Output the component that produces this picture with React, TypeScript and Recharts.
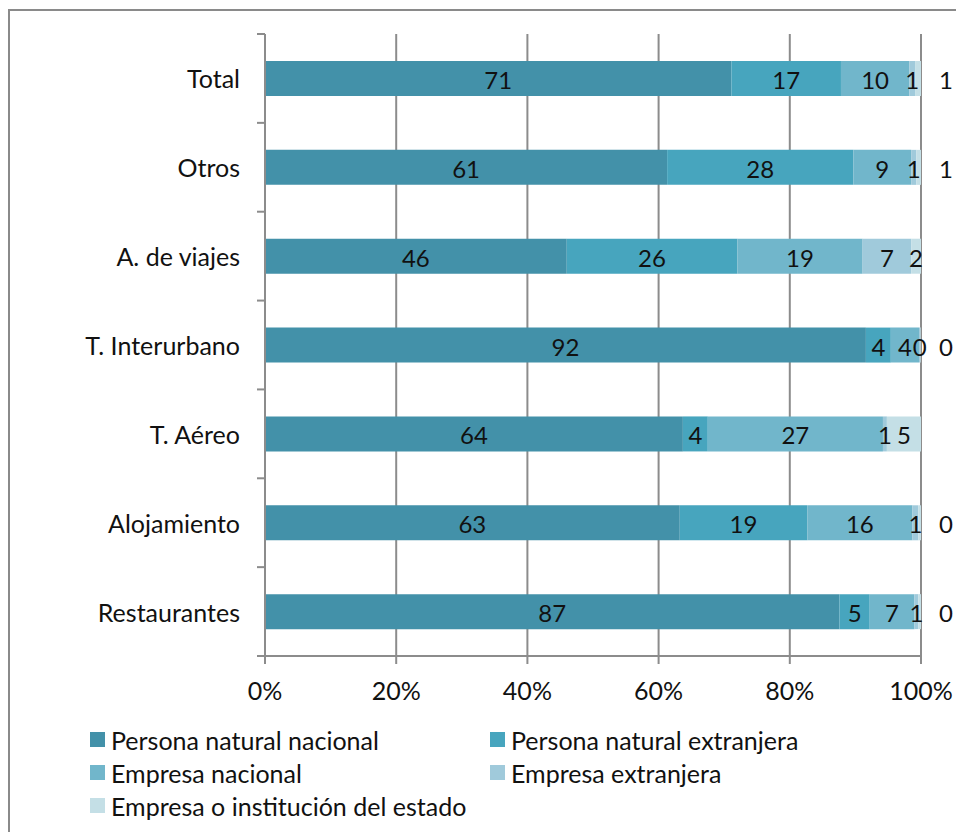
import React from 'react';
import { BarChart, Bar, XAxis, YAxis, CartesianGrid, Legend, LabelList } from 'recharts';

const categories = ['Total', 'Otros', 'A. de viajes', 'T. Interurbano', 'T. Aéreo', 'Alojamiento', 'Restaurantes'];
const personaNacional = [71.1, 61.3, 46.0, 91.6, 63.7, 63.1, 87.4];
const personaExtranjera = [16.7, 28.4, 26.0, 3.8, 3.8, 19.4, 4.6];
const empresaNacional = [10.4, 8.8, 19.1, 4.3, 26.7, 16.0, 6.8];
const empresaExtranjera = [0.9, 0.8, 7.4, 0.2, 0.6, 0.9, 0.6];
const empresaEstado = [0.9, 0.7, 1.5, 0.1, 5.2, 0.4, 0.4];

const seriesNames = [
  'Persona natural nacional',
  'Persona natural extranjera',
  'Empresa nacional',
  'Empresa extranjera',
  'Empresa o institución del estado',
];
const xTicks = [0, 0.2, 0.4, 0.6, 0.8, 1];

const COLORS = ['#4391A9', '#47A5BE', '#71B6CB', '#A0CADB', '#C4DFE6'];
const KEYS = ['s1', 's2', 's3', 's4', 's5'];
const FONT = 'Lato, "Open Sans", sans-serif';
const AXIS = '#8c8c8c';

const data = categories.map((name, i) => ({
  name,
  s1: personaNacional[i],
  s2: personaExtranjera[i],
  s3: empresaNacional[i],
  s4: empresaExtranjera[i],
  s5: empresaEstado[i],
}));

// layout
const PLOT_TOP = 34;
const PLOT_BOTTOM = 656;
const BAND = (PLOT_BOTTOM - PLOT_TOP) / categories.length;

const YTick = (props: any) => {
  const { y, payload } = props;
  const last = payload.value === categories[categories.length - 1];
  return (
    <g>
      <text x={240} y={y} textAnchor="end" dominantBaseline="central" fontSize={25} fontFamily={FONT} fill="#111">
        {payload.value}
      </text>
      <line x1={257} x2={265} y1={y - BAND / 2} y2={y - BAND / 2} stroke={AXIS} strokeWidth={2} />
      {last && <line x1={257} x2={265} y1={y + BAND / 2} y2={y + BAND / 2} stroke={AXIS} strokeWidth={2} />}
    </g>
  );
};

const XTick = (props: any) => {
  const { x, payload } = props;
  return (
    <text x={x} y={690} textAnchor="middle" dominantBaseline="central" fontSize={25} fontFamily={FONT} fill="#111">
      {Math.round(payload.value * 100)}%
    </text>
  );
};

const makeLabel = (series: number) => (props: any) => {
  const { x, y, width, height, value } = props;
  const v = Number(value);
  let cx = x + width / 2;
  // small last segments were labelled outside the bar
  if (series === 4 && v < 1.2) cx = x + width + 25;
  return (
    <text x={cx} y={y + height / 2 + 1} textAnchor="middle" dominantBaseline="central" fontSize={24} fontFamily={FONT} fill="#111">
      {Math.round(v)}
    </text>
  );
};

const LegendBox = () => (
  <div style={{ display: 'grid', gridTemplateColumns: '400px 400px', rowGap: 4, fontFamily: FONT, fontSize: 25, color: '#111' }}>
    {seriesNames.map((n, i) => (
      <div key={n} style={{ display: 'flex', alignItems: 'center', height: 29 }}>
        <span style={{ width: 15, height: 15, background: COLORS[i], marginRight: 6, display: 'inline-block' }} />
        <span>{n}</span>
      </div>
    ))}
  </div>
);

export default function App() {
  return (
    <div style={{ position: 'fixed', left: 0, top: 0, width: 956, height: 832, overflow: 'hidden', background: '#fff' }}>
      <div style={{ position: 'absolute', left: 8, top: 9, width: 1000, height: 900, border: '2px solid #8a8a8a' }} />
      <div style={{ position: 'absolute', left: 0, top: 0 }}>
        <BarChart
          width={956}
          height={832}
          data={data}
          layout="vertical"
          stackOffset="expand"
          barSize={35}
          margin={{ top: PLOT_TOP, right: 35, left: 0, bottom: 26 }}
        >
          <CartesianGrid horizontal={false} stroke={AXIS} strokeWidth={2} />
          <XAxis
            type="number"
            domain={[0, 1]}
            ticks={xTicks}
            tick={<XTick />}
            tickSize={8}
            height={50}
            axisLine={{ stroke: AXIS, strokeWidth: 2 }}
            tickLine={{ stroke: AXIS, strokeWidth: 2 }}
            interval={0}
          />
          <YAxis
            type="category"
            dataKey="name"
            width={265}
            tick={<YTick />}
            tickLine={false}
            axisLine={{ stroke: AXIS, strokeWidth: 2 }}
            interval={0}
          />
          <Legend
            content={<LegendBox />}
            wrapperStyle={{ left: 90, top: 725, bottom: 'auto', width: 820, height: 100 }}
          />
          {KEYS.map((k, i) => (
            <Bar key={k} dataKey={k} name={seriesNames[i]} stackId="a" fill={COLORS[i]} isAnimationActive={false}>
              <LabelList dataKey={k} content={makeLabel(i)} />
            </Bar>
          ))}
        </BarChart>
      </div>
    </div>
  );
}
